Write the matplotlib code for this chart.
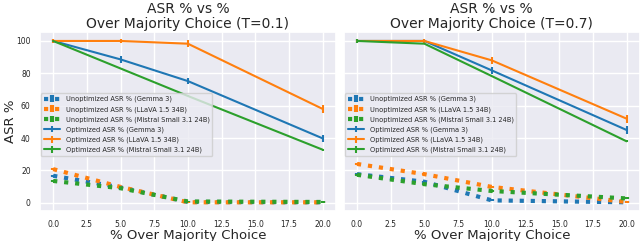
import numpy as np
import matplotlib
matplotlib.use('Agg')
import matplotlib.pyplot as plt
import seaborn as sns

sns.set_theme(style='darkgrid')

x = [0, 5, 10, 20]
models = ['Gemma 3', 'LLaVA 1.5 34B', 'Mistral Small 3.1 24B']
colors = ['tab:blue', 'tab:orange', 'tab:green']

# T=0.1
unopt_t01 = [[16.7, 9.5, 0.5, 0.3],
             [20.8, 9.8, 0.3, 0.3],
             [13.5, 9.0, 0.8, 0.5]]
opt_t01 = [[100, 88.6, 75.2, 39.8],
           [100, 100, 98.3, 58],
           [100, 83, 66, 32.8]]
err_opt_t01 = [[1.5, 2, 2, 2],
               [1.5, 1.5, 2, 2.5],
               [0.8, 0.3, 0.3, 0.5]]

# T=0.7
unopt_t07 = [[17.7, 13, 1.5, 0.3],
             [24, 17.7, 9.8, 0.5],
             [17.3, 11.5, 7.3, 2.7]]
opt_t07 = [[100, 100, 81.8, 45],
           [100, 100, 88, 52],
           [100, 98.3, 78.3, 38]]
err_opt_t07 = [[1.5, 1.5, 2, 2.5],
               [1.5, 1.5, 2, 2.5],
               [1.5, 0.3, 0.3, 0.5]]

fig, axs = plt.subplots(1, 2, figsize=(6.4, 2.41), dpi=100, sharey=True)
fig.subplots_adjust(left=0.062, right=1.0, bottom=0.125, top=0.867, wspace=0.025)

panels = [(axs[0], unopt_t01, opt_t01, err_opt_t01, 'ASR % vs %\nOver Majority Choice (T=0.1)'),
          (axs[1], unopt_t07, opt_t07, err_opt_t07, 'ASR % vs %\nOver Majority Choice (T=0.7)')]

for ax, unopt, opt, err, title in panels:
    for i, m in enumerate(models):
        ax.errorbar(x, unopt[i], yerr=0.6, color=colors[i], linestyle=':', linewidth=3,
                    elinewidth=3, label=f'Unoptimized ASR % ({m})')
    for i, m in enumerate(models):
        ax.errorbar(x, opt[i], yerr=err[i], color=colors[i], linewidth=1.5,
                    elinewidth=1.5, label=f'Optimized ASR % ({m})')
    ax.set_title(title, fontsize=10, pad=3, linespacing=1.1)
    ax.set_xlabel('% Over Majority Choice', fontsize=9.5, labelpad=0)
    ax.set_xlim(-1, 21)
    ax.set_ylim(-5, 105.5)
    ax.set_yticks([0, 20, 40, 60, 80, 100])
    ax.tick_params(labelsize=5.5, pad=0.5)
    ax.legend(loc='upper left', bbox_to_anchor=(0.0, 0.665), fontsize=4.8,
              borderaxespad=0.2, labelspacing=0.55, handlelength=2.5)

axs[0].set_ylabel('ASR %', fontsize=9.5)
axs[0].yaxis.set_label_coords(-0.075, 0.5)

plt.savefig('out.png', dpi=100)
